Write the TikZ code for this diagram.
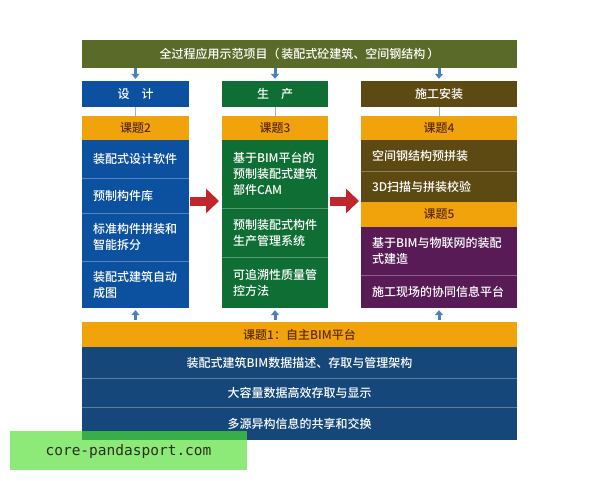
\documentclass[tikz,border=0pt]{standalone}
\usepackage{fontspec}
\setmainfont{Noto Sans CJK SC}[UprightFont={* Medium}]
\newfontfamily\wmfont{DejaVu Sans Mono}
\usetikzlibrary{arrows.meta}

\definecolor{banner}{HTML}{5A6B29}
\definecolor{designblue}{HTML}{0C51A0}
\definecolor{prodgreen}{HTML}{0F6E33}
\definecolor{sitebrown}{HTML}{5D4912}
\definecolor{sitepurple}{HTML}{581B55}
\definecolor{basenavy}{HTML}{15477A}
\definecolor{topicorange}{HTML}{F1A30C}
\definecolor{topictext}{HTML}{5B2C06}
\definecolor{steel}{HTML}{4D7FB8}
\definecolor{linkgray}{HTML}{9DB3C4}
\definecolor{flowred}{HTML}{C0272D}
\definecolor{wmgreen}{HTML}{8DEA78}
\definecolor{wmdark}{HTML}{37AE48}
\definecolor{wmtext}{HTML}{2E2E1E}

\begin{document}
\begin{tikzpicture}[x=1pt, y=-1pt,
    box/.style={rectangle, inner sep=0pt, text=white, font=\fontsize{12}{16}\selectfont},
    item/.style={box, align=left, inner xsep=11pt},
    row/.style={box, align=center, minimum width=435pt},
    topic/.style={box, fill=topicorange, text=topictext},
    sep/.style={white, opacity=0.3, line width=0.8pt},
    down/.style={steel, line width=3pt, -{Triangle[width=8pt,length=5pt]}},
    link/.style={linkgray, line width=1pt},
    flow/.style={flowred, line width=9pt, -{Triangle[width=24pt,length=13pt]}}]
\useasboundingbox[fill=white] (0,0) rectangle (600,480);

        % Draw the banner and the headers
        \node[row, fill=banner, minimum height=28pt] at (299.5, 54) (top) {全过程应用示范项目（\,装配式砼建筑、空间钢结构\,）};
        \node[box, fill=designblue, minimum width=107pt, minimum height=26pt] at (135.5, 94) (design) {设\hspace{1em}计};
        \node[box, fill=prodgreen, minimum width=106pt, minimum height=26pt] at (275, 94) (prod) {生\hspace{1em}产};
        \node[box, fill=sitebrown, minimum width=156pt, minimum height=26pt] at (439, 94) (site) {施工安装};
        % Draw the topic rows
        \node[topic, minimum width=107pt, minimum height=24pt] at (135.5, 128) (k2) {课题2};
        \node[topic, minimum width=106pt, minimum height=24pt] at (275, 128) (k3) {课题3};
        \node[topic, minimum width=156pt, minimum height=24pt] at (439, 128) (k4) {课题4};
        % Draw the design column
        \node[item, fill=designblue, text width=85pt, minimum height=38pt] at (135.5, 159) (d1) {装配式设计软件};
        \node[item, fill=designblue, text width=85pt, minimum height=35pt] at (135.5, 195.5) (d2) {预制构件库};
        \node[item, fill=designblue, text width=85pt, minimum height=48pt] at (135.5, 237) (d3) {标准构件拼装和\\智能拆分};
        \node[item, fill=designblue, text width=85pt, minimum height=47pt] at (135.5, 284.5) (d4) {装配式建筑自动\\成图};
        % Draw the production column
        \node[item, fill=prodgreen, text width=84pt, minimum height=68pt] at (275, 174) (p1) {基于BIM平台的\\预制装配式建筑\\部件CAM};
        \node[item, fill=prodgreen, text width=84pt, minimum height=49pt] at (275, 232.5) (p2) {预制装配式构件\\生产管理系统};
        \node[item, fill=prodgreen, text width=84pt, minimum height=51pt] at (275, 282.5) (p3) {可追溯性质量管\\控方法};
        % Draw the site column
        \node[item, fill=sitebrown, text width=134pt, minimum height=31pt] at (439, 155.5) (s1) {空间钢结构预拼装};
        \node[item, fill=sitebrown, text width=134pt, minimum height=31pt] at (439, 186.5) (s2) {3D扫描与拼装校验};
        \node[topic, minimum width=156pt, minimum height=25pt] at (439, 214.5) (k5) {课题5};
        \node[item, fill=sitepurple, text width=134pt, minimum height=48pt] at (439, 251) (s3) {基于BIM与物联网的装配\\式建造};
        \node[item, fill=sitepurple, text width=134pt, minimum height=33pt] at (439, 291.5) (s4) {施工现场的协同信息平台};
        % Draw the platform at the bottom
        \node[row, topic, minimum height=25pt] at (299.5, 334.5) (k1) {课题1：自主BIM平台};
        \node[row, fill=basenavy, minimum height=31pt] at (299.5, 362.5) (b1) {装配式建筑BIM数据描述、存取与管理架构};
        \node[row, fill=basenavy, minimum height=29pt] at (299.5, 392.5) (b2) {大容量数据高效存取与显示};
        \node[row, fill=basenavy, minimum height=33pt] at (299.5, 423.5) (b3) {多源异构信息的共享和交换};
        % Separators between the items
        \foreach \n in {d1, d2, d3, p1, p2, s1, s3, b1, b2}
            \draw[sep] (\n.south west) -- (\n.south east);
        % Connect the blocks with arrows
        \draw[down, shorten >=2pt] (top.south -| design.north) -- (design.north);
        \draw[down, shorten >=2pt] (top.south -| prod.north) -- (prod.north);
        \draw[down, shorten >=2pt] (top.south -| site.north) -- (site.north);
        \draw[link] (design.south) -- (k2.north);
        \draw[link] (prod.south) -- (k3.north);
        \draw[link] (site.south) -- (k4.north);
        \draw[down, shorten <=2pt, shorten >=2pt] (k1.north -| d4.south) -- (d4.south);
        \draw[down, shorten <=2pt, shorten >=2pt] (k1.north -| p3.south) -- (p3.south);
        \draw[down, shorten <=2pt, shorten >=2pt] (k1.north -| s4.south) -- (s4.south);
        \coordinate (f1) at (190, 201);
        \coordinate (f2) at (219, 201);
        \coordinate (f3) at (330, 201);
        \coordinate (f4) at (359, 201);
        \draw[flow] (f1) -- (f2);
        \draw[flow] (f3) -- (f4);
        % Draw the watermark
        \fill[wmgreen] (10, 431) rectangle (247, 470);
        \fill[wmdark] (82, 431) rectangle (247, 440);
        \node[text=wmtext, font=\wmfont\fontsize{14.5}{16}\selectfont] at (128.5, 451) (wm) {core-pandasport.com};
\end{tikzpicture}
\end{document}
